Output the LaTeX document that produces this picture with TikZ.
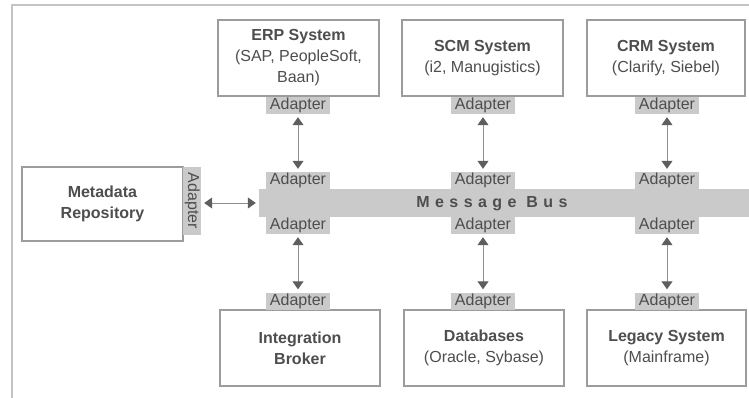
\documentclass[tikz,border=0pt]{standalone}
\usepackage{fontspec}
\setmainfont{Liberation Sans}
\newfontfamily\busfont[LetterSpace=34]{Liberation Sans}
\usetikzlibrary{arrows.meta}
\definecolor{txt}{HTML}{4E4E4E}
\definecolor{edge}{HTML}{9C9C9C}
\definecolor{frame}{HTML}{C4C4C4}
\definecolor{shade}{HTML}{CACACA}
\definecolor{arr}{HTML}{5E5E5E}
\definecolor{shaft}{HTML}{8E8E8E}
\newcommand{\dfont}{\fontsize{16}{21}\selectfont}
\begin{document}
\begin{tikzpicture}[x=1pt,y=-1pt,
  sysbox/.style={draw=edge, line width=1.1pt, fill=white, inner sep=0pt,
    align=center, text=txt, font=\dfont, minimum width=160pt, minimum height=76pt},
  adapter/.style={fill=shade, text=txt, font=\dfont, inner sep=0pt,
    text height=11.5pt, text depth=3.5pt, minimum width=64pt, minimum height=17pt},
  link/.style={draw=shaft, line width=1pt, shorten <=3pt, shorten >=3pt,
    {Triangle[width=11pt,length=8pt,color=arr]}-{Triangle[width=11pt,length=8pt,color=arr]}}
]
\useasboundingbox (0,0) rectangle (749,398);
% outer frame
\draw[frame, line width=1.3pt] (12,398) -- (12,5) -- (749,5);

% message bus
\node[fill=shade, inner sep=0pt, minimum width=490pt, minimum height=28pt] (bus) at (504,203) {};
\node[text=txt, font=\dfont\busfont\bfseries] (busl) at (492,204) {Message Bus};

% upper systems
\node[sysbox, minimum width=161pt] (erp) at (298.5,58) {\textbf{ERP System}\\(SAP, PeopleSoft,\\Baan)};
\node[sysbox, minimum width=161pt] (scm) at (482.5,58) {\textbf{SCM System}\\(i2, Manugistics)};
\node[sysbox, minimum width=158pt] (crm) at (666,58) {\textbf{CRM System}\\(Clarify, Siebel)};

% lower systems
\node[sysbox] (brk) at (300,348) {\textbf{Integration}\\\textbf{Broker}};
\node[sysbox] (db)  at (484,348) {\textbf{Databases}\\(Oracle, Sybase)};
\node[sysbox, minimum width=159pt] (leg) at (666.5,348) {\textbf{Legacy System}\\(Mainframe)};

% metadata repository with its side adapter
\node[sysbox, minimum width=161pt, minimum height=74pt] (meta) at (102.5,204) {\textbf{Metadata}\\\textbf{Repository}};
\node[adapter, rotate=-90, minimum width=68pt, minimum height=18pt] (metaA) at (192,201) {Adapter};

% adapters next to the systems
\node[adapter] (erpA) at (298,105.5) {Adapter};
\node[adapter] (scmA) at (483,105.5) {Adapter};
\node[adapter] (crmA) at (667,105.5) {Adapter};
\node[adapter] (brkA) at (298,301) {Adapter};
\node[adapter] (dbA)  at (483,301) {Adapter};
\node[adapter] (legA) at (667,301) {Adapter};

% adapters on the bus
\node[adapter] (erpU) at (298,180.5) {Adapter};
\node[adapter] (scmU) at (483,180.5) {Adapter};
\node[adapter] (crmU) at (667,180.5) {Adapter};
\node[adapter] (brkU) at (298,225.5) {Adapter};
\node[adapter] (dbU)  at (483,225.5) {Adapter};
\node[adapter] (legU) at (667,225.5) {Adapter};

% connectors
\draw[link] (erpA) -- (erpU);
\draw[link] (scmA) -- (scmU);
\draw[link] (crmA) -- (crmU);
\draw[link] (brkU) -- (brkA);
\draw[link] (dbU) -- (dbA);
\draw[link] (legU) -- (legA);
\draw[link] (metaA.north |- 0,203) -- (bus.west |- 0,203);
\end{tikzpicture}
\end{document}
